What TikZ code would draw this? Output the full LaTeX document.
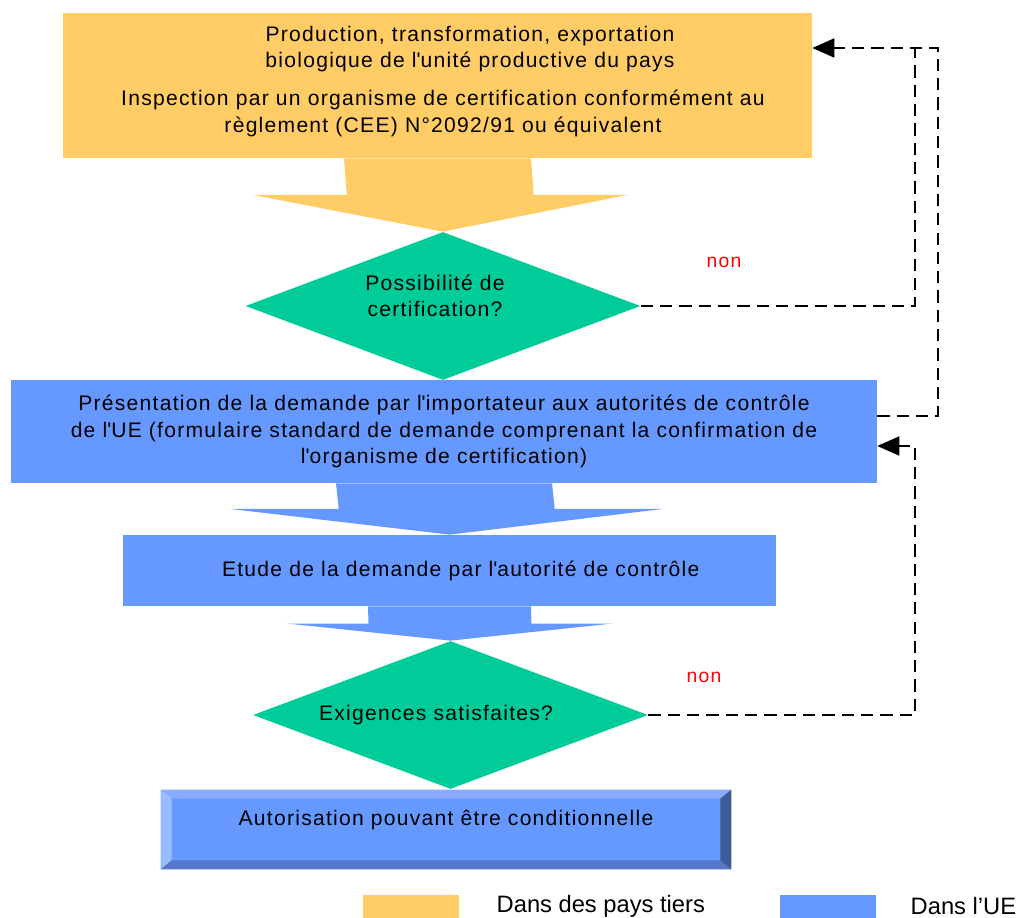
\documentclass[tikz,border=0pt]{standalone}
\usepackage{fontspec}
\setmainfont{Liberation Sans}[LetterSpace=6]
\newfontfamily\legendfont{Liberation Sans}
\usetikzlibrary{arrows.meta, positioning, shapes.geometric, calc}

\definecolor{paysorange}{HTML}{FFCC66}
\definecolor{uebleu}{HTML}{6699FF}
\definecolor{vertdecision}{HTML}{00CC99}
\definecolor{bevelhaut}{HTML}{88AAFF}
\definecolor{bevelgauche}{HTML}{99BBFF}
\definecolor{bevelbas}{HTML}{5577CC}
\definecolor{beveldroit}{HTML}{3D5C99}

\newcommand{\corps}{\fontsize{12}{15}\selectfont}
\newcommand{\apos}{\textquotesingle}
% block arrow: colour, from node, to node, half width of the shaft
\newcommand{\blockarrow}[4]{%
  \fill[#1] ($(#2.south)+(-#4,0)$) -- ($(#2.south)!0.5!(#3.north)+(-#4,0)$)
    -- ($(#2.south)!0.5!(#3.north)+(-2*#4,0)$) -- (#3.north)
    -- ($(#2.south)!0.5!(#3.north)+(2*#4,0)$) -- ($(#2.south)!0.5!(#3.north)+(#4,0)$)
    -- ($(#2.south)+(#4,0)$) -- cycle;}

\begin{document}
\begin{tikzpicture}[x=0.02cm, y=-0.02cm,
  boite/.style={rectangle, inner sep=0pt, align=center, font=\corps},
  decision/.style={diamond, aspect=2.66, inner sep=0pt, fill=vertdecision,
                   minimum width=7.9cm, minimum height=2.96cm},
  texte/.style={align=center, inner sep=0pt, font=\corps},
  retour/.style={line width=1pt, dash pattern=on 7pt off 4pt,
                 -{Triangle[length=0.44cm, width=0.38cm]}},
  nonlabel/.style={text=red, font=\fontsize{11}{13}\selectfont},
  legende/.style={inner sep=0pt, font=\legendfont\fontsize{13.5}{16}\selectfont}]
  \useasboundingbox (0,0) rectangle (1021,918);

  % pays tiers
  \node[boite, fill=paysorange, minimum width=14.98cm, minimum height=2.9cm] (prod) at (437.5,85.5) {};
  \node[texte] (prodtxt) at (470,49) {Production, transformation, exportation\\biologique de l\apos unité productive du pays};
  \node[texte] (inspectxt) at (443,113.5) {Inspection par un organisme de certification conformément au\\règlement (CEE) N°2092/91 ou équivalent};
  \node[decision] (certif) at (443,306) {};
  \node[texte] (certiftxt) at (435,296) {Possibilité de\\certification?};

  % UE
  \node[boite, fill=uebleu, minimum width=17.32cm, minimum height=2.06cm] (demande) at (444,431.5)
    {Présentation de la demande par l\apos importateur aux autorités de contrôle\\
     de l\apos UE (formulaire standard de demande comprenant la confirmation de\\
     l\apos organisme de certification)};
  \node[boite, fill=uebleu, minimum width=13.06cm, minimum height=1.42cm] (etude) at (449.5,570.5)
    {\hspace{0.45cm}Etude de la demande par l\apos autorité de contrôle};
  \node[decision] (exig) at (450.5,715) {};
  \node[texte] (exigtxt) at (436,715) {Exigences satisfaites?};

  % final box with bevel
  \node[boite, fill=uebleu, minimum width=11.4cm, minimum height=1.58cm] (final) at (446,829.5) {};
  \fill[bevelhaut] (final.north west) -- (final.north east) -- ($(final.north east)+(-11,9)$) -- ($(final.north west)+(11,9)$) -- cycle;
  \fill[bevelgauche] (final.north west) -- (final.south west) -- ($(final.south west)+(11,-9)$) -- ($(final.north west)+(11,9)$) -- cycle;
  \fill[bevelbas] (final.south west) -- (final.south east) -- ($(final.south east)+(-11,-9)$) -- ($(final.south west)+(11,-9)$) -- cycle;
  \fill[beveldroit] (final.north east) -- (final.south east) -- ($(final.south east)+(-11,-9)$) -- ($(final.north east)+(-11,9)$) -- cycle;
  \node[texte] (finaltxt) at (446,820) {Autorisation pouvant être conditionnelle};

  % block arrows
  \blockarrow{paysorange}{prod}{certif}{93.5}
  \blockarrow{uebleu}{demande}{etude}{108}
  \blockarrow{uebleu}{etude}{exig}{81.5}

  % "non" loops
  \coordinate (coinA) at (915,48);
  \coordinate (coinB) at (938,416);
  \coordinate (coinC) at (915,446);
  \draw[retour, -] (certif.east) -| (coinA);
  \draw[retour] (demande.east |- coinB) -- (coinB) |- (prod.east |- coinA);
  \draw[retour] (exig.east) -| (coinC) -- (demande.east |- coinC);
  \node[nonlabel] (non1) at (724,262) {non};
  \node[nonlabel] (non2) at (704,677) {non};

  % legend
  \node[fill=paysorange, minimum width=1.92cm, minimum height=0.46cm, inner sep=0pt] (legpays) at (411,906.5) {};
  \node[legende, right=0.74cm of legpays] (legpaystxt) {Dans des pays tiers};
  \node[fill=uebleu, minimum width=1.92cm, minimum height=0.46cm, inner sep=0pt] (legue) at (828,906.5) {};
  \node[legende, right=0.68cm of legue] (leguetxt) {Dans l’UE};
\end{tikzpicture}
\end{document}
